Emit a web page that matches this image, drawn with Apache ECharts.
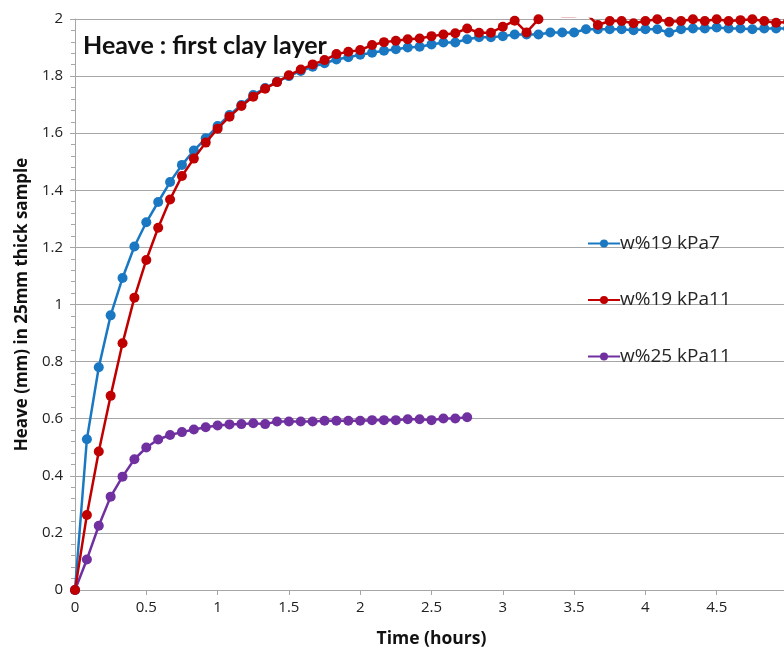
<!DOCTYPE html>
<html>
<head>
<meta charset="utf-8">
<script src="https://cdn.jsdelivr.net/npm/echarts@6/dist/echarts.min.js"></script>
<style>
  html, body { margin: 0; padding: 0; background: #ffffff; }
  #chart { width: 784px; height: 653px; }
</style>
</head>
<body>
<div id="chart"></div>
<script>
// Elapsed time of each reading, in minutes (one reading every 5 minutes)
const minutes = [
  0, 5, 10, 15, 20, 25, 30, 35, 40, 45, 50, 55, 60, 65, 70, 75, 80, 85, 90, 95,
  100, 105, 110, 115, 120, 125, 130, 135, 140, 145, 150, 155, 160, 165, 170, 175,
  180, 185, 190, 195, 200, 205, 210, 215, 220, 225, 230, 235, 240, 245, 250, 255,
  260, 265, 270, 275, 280, 285, 290, 295, 300
];

// Heave (mm), w%19 kPa7
const heaveW19kPa7 = [
  0, 0.528, 0.780, 0.962, 1.093, 1.203, 1.288, 1.359, 1.429, 1.489,
  1.539, 1.582, 1.625, 1.664, 1.699, 1.734, 1.758, 1.780, 1.800, 1.818,
  1.833, 1.845, 1.858, 1.866, 1.875, 1.882, 1.889, 1.894, 1.900, 1.903,
  1.911, 1.918, 1.918, 1.929, 1.936, 1.936, 1.940, 1.946, 1.946, 1.946,
  1.953, 1.953, 1.953, 1.964, 1.964, 1.964, 1.964, 1.961, 1.964, 1.964,
  1.953, 1.964, 1.967, 1.967, 1.970, 1.967, 1.967, 1.964, 1.967, 1.967,
  1.967
];

// Heave (mm), w%19 kPa11
const heaveW19kPa11 = [
  0, 0.263, 0.485, 0.680, 0.864, 1.024, 1.156, 1.269, 1.368, 1.450,
  1.511, 1.567, 1.616, 1.658, 1.695, 1.728, 1.756, 1.779, 1.803, 1.823,
  1.841, 1.856, 1.877, 1.885, 1.891, 1.909, 1.919, 1.924, 1.929, 1.932,
  1.940, 1.946, 1.950, 1.967, 1.952, 1.952, 1.973, 1.994, 1.953, 1.999,
  2.030, 2.008, 2.008, 2.020, 1.979, 1.993, 1.993, 1.985, 1.993, 1.999,
  1.990, 1.993, 1.999, 1.993, 1.999, 1.993, 1.996, 1.999, 1.993, 1.987,
  1.990
];

// Heave (mm), w%25 kPa11 (recorded up to 165 minutes)
const heaveW25kPa11 = [
  0, 0.107, 0.225, 0.327, 0.397, 0.458, 0.499, 0.527, 0.543, 0.553,
  0.562, 0.570, 0.576, 0.580, 0.581, 0.584, 0.581, 0.590, 0.590, 0.590,
  0.590, 0.593, 0.593, 0.593, 0.593, 0.595, 0.595, 0.595, 0.598, 0.598,
  0.595, 0.601, 0.601, 0.605
];

const seriesNames = ['w%19 kPa7', 'w%19 kPa11', 'w%25 kPa11'];
const seriesColors = ['#1a78c2', '#c00000', '#7030a0'];
const seriesValues = [heaveW19kPa7, heaveW19kPa11, heaveW25kPa11];

// Axis ranges (hours / mm)
const timeMax = 5, timeStep = 0.5;
const heaveMax = 2, heaveStep = 0.2;

function toPoints(values) {
  return values.map((v, i) => [minutes[i] / 60, v]);
}

const gridColor = '#a6a6a6';
const textFont = '"Liberation Sans Narrow", "Open Sans", sans-serif';

const chart = echarts.init(document.getElementById('chart'), null, { renderer: 'canvas' });

chart.setOption({
  animation: false,
  backgroundColor: '#ffffff',
  title: {
    text: 'Heave : first clay layer',
    left: 78,
    top: 28,
    textStyle: {
      fontFamily: 'Lato, "Open Sans", sans-serif',
      fontWeight: 'bold',
      fontSize: 25,
      color: '#111111'
    }
  },
  legend: {
    orient: 'vertical',
    left: 582,
    top: 229,
    itemGap: 37.5,
    itemWidth: 32,
    itemHeight: 10,
    data: seriesNames,
    textStyle: {
      fontFamily: '"Open Sans", sans-serif',
      fontSize: 19,
      color: '#262626',
      padding: [0, 0, 0, -5]
    }
  },
  grid: {
    left: 75,
    right: -4,
    top: 19,
    bottom: 63,
    containLabel: false,
    outerBoundsMode: 'none'
  },
  xAxis: {
    type: 'value',
    min: 0,
    max: timeMax,
    interval: timeStep,
    name: 'Time (hours)',
    nameLocation: 'middle',
    nameGap: 40,
    nameTextStyle: {
      fontFamily: '"Open Sans", sans-serif',
      fontWeight: 'bold',
      fontSize: 17.5,
      color: '#111111'
    },
    axisLine: { show: true, lineStyle: { color: gridColor, width: 1 } },
    axisTick: { show: true, length: 5, lineStyle: { color: gridColor } },
    axisLabel: {
      margin: 10,
      fontFamily: textFont,
      fontSize: 15,
      color: '#222222'
    },
    splitLine: { show: false }
  },
  yAxis: {
    type: 'value',
    min: 0,
    max: heaveMax,
    interval: heaveStep,
    name: 'Heave (mm) in 25mm thick sample',
    nameLocation: 'middle',
    nameGap: 44,
    nameTextStyle: {
      fontFamily: '"Open Sans", sans-serif',
      fontWeight: 'bold',
      fontSize: 17,
      color: '#111111'
    },
    axisLine: { show: true, lineStyle: { color: gridColor, width: 1 } },
    axisTick: { show: true, length: 5, lineStyle: { color: gridColor } },
    minorTick: { show: true, splitNumber: 5, length: 4, lineStyle: { color: gridColor } },
    axisLabel: {
      margin: 12,
      fontFamily: textFont,
      fontSize: 15,
      color: '#222222'
    },
    splitLine: { show: true, lineStyle: { color: gridColor, width: 1 } }
  },
  series: seriesNames.map((name, k) => ({
    name: name,
    type: 'line',
    data: toPoints(seriesValues[k]),
    symbol: 'circle',
    symbolSize: 10,
    showSymbol: true,
    clip: true,
    color: seriesColors[k],
    lineStyle: { width: 2.5, color: seriesColors[k] },
    itemStyle: { color: seriesColors[k] },
    z: 2 + (k === 1 ? 1 : 0)
  }))
});
</script>
</body>
</html>
